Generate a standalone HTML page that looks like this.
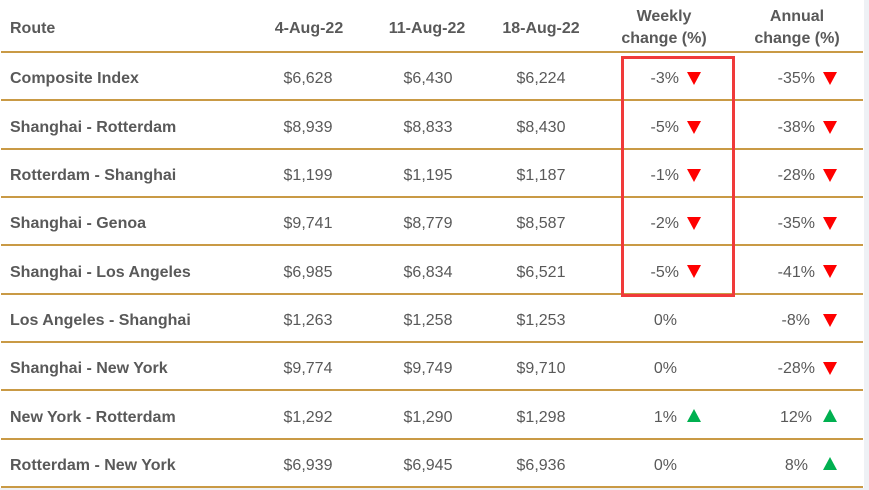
<!DOCTYPE html>
<html><head><meta charset="utf-8"><style>
html,body{margin:0;padding:0;}
body{width:869px;height:490px;background:#eef1f5;position:relative;overflow:hidden;font-family:"Liberation Sans",Arial,sans-serif;color:#595959;}
#card{position:absolute;left:0;top:0;width:864px;height:488px;background:#fff;}
.ln{position:absolute;left:1px;width:862px;height:2px;background:#c99a45;}
.t{position:absolute;height:24px;line-height:24px;font-size:16px;white-space:nowrap;}
.b{font-weight:bold;}
.c{text-align:center;width:120px;}
.r{text-align:right;width:80px;}
.h2{position:absolute;font-weight:bold;font-size:16px;line-height:22px;text-align:center;width:130px;}
.dn,.up{position:absolute;width:0;height:0;border-left:7px solid transparent;border-right:7px solid transparent;}
.dn{border-top:13px solid #ff0000;}
.up{border-bottom:13px solid #00b050;}
#box{position:absolute;left:621px;top:56px;width:108px;height:235px;border:3px solid #f03a3a;}
</style></head><body>
<div id="card">
<div class="ln" style="top:51px"></div>
<div class="ln" style="top:99px"></div>
<div class="ln" style="top:148px"></div>
<div class="ln" style="top:196px"></div>
<div class="ln" style="top:244px"></div>
<div class="ln" style="top:293px"></div>
<div class="ln" style="top:341px"></div>
<div class="ln" style="top:389px"></div>
<div class="ln" style="top:438px"></div>
<div class="ln" style="top:486px"></div>

<div class="t b" style="left:10px;top:17px">Route</div>
<div class="t b c" style="left:249px;top:17px">4-Aug-22</div>
<div class="t b c" style="left:367px;top:17px">11-Aug-22</div>
<div class="t b c" style="left:481px;top:17px">18-Aug-22</div>
<div class="h2" style="left:599px;top:6px">Weekly<br>change (%)</div>
<div class="h2" style="left:732px;top:6px">Annual<br>change (%)</div>
</div>

<div id="box"></div>

<div class="t b" style="left:10px;top:67px">Composite Index</div>
<div class="t c" style="left:248px;top:67px">$6,628</div>
<div class="t c" style="left:368px;top:67px">$6,430</div>
<div class="t c" style="left:481px;top:67px">$6,224</div>
<div class="t r" style="left:599px;top:67px">-3%</div>
<div class="dn" style="left:687px;top:72px"></div>
<div class="t r" style="left:735px;top:67px">-35%</div>
<div class="dn" style="left:823px;top:72px"></div>

<div class="t b" style="left:10px;top:116px">Shanghai - Rotterdam</div>
<div class="t c" style="left:248px;top:116px">$8,939</div>
<div class="t c" style="left:368px;top:116px">$8,833</div>
<div class="t c" style="left:481px;top:116px">$8,430</div>
<div class="t r" style="left:599px;top:116px">-5%</div>
<div class="dn" style="left:687px;top:121px"></div>
<div class="t r" style="left:735px;top:116px">-38%</div>
<div class="dn" style="left:823px;top:121px"></div>

<div class="t b" style="left:10px;top:164px">Rotterdam - Shanghai</div>
<div class="t c" style="left:248px;top:164px">$1,199</div>
<div class="t c" style="left:368px;top:164px">$1,195</div>
<div class="t c" style="left:481px;top:164px">$1,187</div>
<div class="t r" style="left:599px;top:164px">-1%</div>
<div class="dn" style="left:687px;top:169px"></div>
<div class="t r" style="left:735px;top:164px">-28%</div>
<div class="dn" style="left:823px;top:169px"></div>

<div class="t b" style="left:10px;top:212px">Shanghai - Genoa</div>
<div class="t c" style="left:248px;top:212px">$9,741</div>
<div class="t c" style="left:368px;top:212px">$8,779</div>
<div class="t c" style="left:481px;top:212px">$8,587</div>
<div class="t r" style="left:599px;top:212px">-2%</div>
<div class="dn" style="left:687px;top:217px"></div>
<div class="t r" style="left:735px;top:212px">-35%</div>
<div class="dn" style="left:823px;top:217px"></div>

<div class="t b" style="left:10px;top:261px">Shanghai - Los Angeles</div>
<div class="t c" style="left:248px;top:261px">$6,985</div>
<div class="t c" style="left:368px;top:261px">$6,834</div>
<div class="t c" style="left:481px;top:261px">$6,521</div>
<div class="t r" style="left:599px;top:261px">-5%</div>
<div class="dn" style="left:687px;top:265px"></div>
<div class="t r" style="left:735px;top:261px">-41%</div>
<div class="dn" style="left:823px;top:265px"></div>

<div class="t b" style="left:10px;top:309px">Los Angeles - Shanghai</div>
<div class="t c" style="left:248px;top:309px">$1,263</div>
<div class="t c" style="left:368px;top:309px">$1,258</div>
<div class="t c" style="left:481px;top:309px">$1,253</div>
<div class="t r" style="left:597px;top:309px">0%</div>
<div class="t r" style="left:730px;top:309px">-8%</div>
<div class="dn" style="left:823px;top:314px"></div>

<div class="t b" style="left:10px;top:357px">Shanghai - New York</div>
<div class="t c" style="left:248px;top:357px">$9,774</div>
<div class="t c" style="left:368px;top:357px">$9,749</div>
<div class="t c" style="left:481px;top:357px">$9,710</div>
<div class="t r" style="left:597px;top:357px">0%</div>
<div class="t r" style="left:735px;top:357px">-28%</div>
<div class="dn" style="left:823px;top:362px"></div>

<div class="t b" style="left:10px;top:406px">New York - Rotterdam</div>
<div class="t c" style="left:248px;top:406px">$1,292</div>
<div class="t c" style="left:368px;top:406px">$1,290</div>
<div class="t c" style="left:481px;top:406px">$1,298</div>
<div class="t r" style="left:597px;top:406px">1%</div>
<div class="up" style="left:687px;top:409px"></div>
<div class="t r" style="left:732px;top:406px">12%</div>
<div class="up" style="left:823px;top:409px"></div>

<div class="t b" style="left:10px;top:454px">Rotterdam - New York</div>
<div class="t c" style="left:248px;top:454px">$6,939</div>
<div class="t c" style="left:368px;top:454px">$6,945</div>
<div class="t c" style="left:481px;top:454px">$6,936</div>
<div class="t r" style="left:597px;top:454px">0%</div>
<div class="t r" style="left:728px;top:454px">8%</div>
<div class="up" style="left:823px;top:457px"></div>
</body></html>
